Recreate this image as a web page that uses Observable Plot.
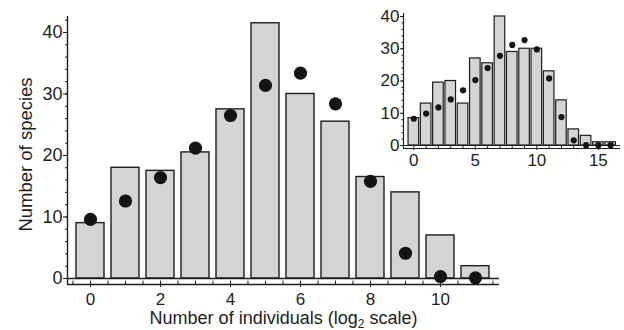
<!DOCTYPE html>
<html><head><meta charset="utf-8">
<script src="https://cdn.jsdelivr.net/npm/d3@7"></script>
<script src="https://cdn.jsdelivr.net/npm/@observablehq/plot@0.6"></script>
<style>
body{margin:0;background:#fff}
#wrap{position:relative;width:624px;height:330px}
#wrap svg{position:absolute;top:0}
</style>
</head><body><div id="wrap"></div>
<script>
// ---- data ----
const mainBins = [0,1,2,3,4,5,6,7,8,9,10,11];
const mainBars = [9,18,17.5,20.5,27.5,41.5,30,25.5,16.5,14,7,2];
const mainDots = [9.6,12.6,16.4,21.2,26.5,31.4,33.4,28.4,15.8,4.1,0.3,0.1];
const mainXTicks = [0,2,4,6,8,10];
const mainYTicks = [0,10,20,30,40];

const insetBins = [0,1,2,3,4,5,6,7,8,9,10,11,12,13,14,15,16];
const insetBars = [8.5,13,19.5,20,13,27,25.5,40,29,30,30,23,14,5,3,1,1];
const insetDots = [8.3,9.9,11.8,14.3,17.1,20.3,24.0,27.8,31.2,32.7,29.8,20.8,8.8,1.6,0.1,0.1,0.1];
const insetXTicks = [0,5,10,15];
const insetYTicks = [0,10,20,30,40];

const xTitle = "Number of individuals (log2 scale)";
const yTitle = "Number of species";

// ---- build ----
const font = "'Liberation Sans', Arial, Helvetica, sans-serif";
const barFill = "#d3d4d6", ink = "#1e1e1e";
const mainBarData = mainBins.map((k,i)=>({k, v: mainBars[i]}));
const mainDotData = mainBins.map((k,i)=>({k, v: mainDots[i]}));
const insetBarData = insetBins.map((k,i)=>({k, v: insetBars[i]}));
const insetDotData = insetBins.map((k,i)=>({k, v: insetDots[i]}));

const mxDom = [-0.657, 11.686], myDom = [-0.98, 42.6];
const mainMinorX = d3.range(-0.5, 11.6, 0.5);
const mainMinorY = d3.range(0, 42.1, 2);

const main = Plot.plot({
  width: 624, height: 330,
  marginLeft: 67, marginRight: 125, marginTop: 16, marginBottom: 46,
  style: {fontFamily: font, fontSize: "18px", background: "transparent", color: ink, overflow: "visible"},
  x: {type: "linear", domain: mxDom, label: null},
  y: {domain: myDom, label: null},
  marks: [
    Plot.rectY(mainBarData, {x1: d => d.k - 0.4, x2: d => d.k + 0.4, y1: 0, y2: "v", fill: barFill, stroke: ink, strokeWidth: 1.4}),
    Plot.ruleY([0], {stroke: ink, strokeWidth: 1.4}),
    Plot.ruleY([myDom[0]], {stroke: ink, strokeWidth: 1.4}),
    Plot.ruleX([mxDom[0]], {stroke: ink, strokeWidth: 1.4}),
    Plot.axisY(mainYTicks, {tickSize: 4, tickPadding: 1, label: null, fontSize: 18, stroke: ink}),
    Plot.axisY(mainMinorY, {tickSize: 2, text: null, label: null, stroke: ink}),
    Plot.axisX(mainXTicks, {tickSize: 3, tickPadding: 5, label: null, fontSize: 17, stroke: ink}),
    Plot.ruleX(mainMinorX, {y1: myDom[0], y2: myDom[0] + 0.55, stroke: ink}),
    Plot.dot(mainDotData, {x: "k", y: "v", r: 6.6, fill: "#141414"}),
    Plot.text([xTitle], {frameAnchor: "bottom", dy: 33.5, lineAnchor: "middle", textAnchor: "middle", fontSize: 18, fill: ink}),
    Plot.text([yTitle], {frameAnchor: "left", dx: -41, dy: 4, rotate: -90, textAnchor: "middle", lineAnchor: "middle", fontSize: 18.5, fill: ink})
  ]
});

const ixDom = [-0.84, 16.8], iyDom = [-0.93, 40.93];
const insetMinorX = d3.range(0, 16.1, 1);
const insetMinorY = d3.range(0, 40.1, 2);

const inset = Plot.plot({
  width: 244, height: 170,
  marginLeft: 23, marginRight: 4, marginTop: 13, marginBottom: 22,
  style: {fontFamily: font, fontSize: "17px", background: "transparent", color: ink, overflow: "visible"},
  x: {type: "linear", domain: ixDom, label: null},
  y: {domain: iyDom, label: null},
  marks: [
    Plot.rectY(insetBarData, {x1: d => d.k - 0.43, x2: d => d.k + 0.43, y1: 0, y2: "v", fill: barFill, stroke: ink, strokeWidth: 1.2}),
    Plot.ruleY([0], {stroke: ink, strokeWidth: 1.2}),
    Plot.ruleY([iyDom[0]], {stroke: ink, strokeWidth: 1.2}),
    Plot.ruleX([ixDom[0]], {stroke: ink, strokeWidth: 1.2}),
    Plot.axisY(insetYTicks, {tickSize: 3, tickPadding: 1, label: null, fontSize: 17, stroke: ink}),
    Plot.axisY(insetMinorY, {tickSize: 1.5, text: null, label: null, stroke: ink}),
    Plot.axisX(insetXTicks, {tickSize: 2, tickPadding: 3, label: null, fontSize: 17, stroke: ink}),
    Plot.ruleX(insetMinorX, {y1: iyDom[0], y2: iyDom[0] + 0.6, stroke: ink}),
    Plot.dot(insetDotData, {x: "k", y: "v", r: 3.1, fill: "#141414"})
  ]
});

const wrap = document.getElementById("wrap");
main.style.left = "0px";
inset.style.left = "380px";
wrap.appendChild(main);
wrap.appendChild(inset);

// subscript in x title
main.querySelectorAll("text").forEach(t => {
  if (t.textContent === xTitle) {
    const parts = xTitle.split("log2");
    t.textContent = "";
    const ns = "http://www.w3.org/2000/svg";
    const a = document.createElementNS(ns, "tspan"); a.textContent = parts[0] + "log";
    const b = document.createElementNS(ns, "tspan"); b.textContent = "2"; b.setAttribute("font-size", "12"); b.setAttribute("dy", "4");
    const c = document.createElementNS(ns, "tspan"); c.textContent = parts[1]; c.setAttribute("dy", "-4");
    t.append(a, b, c);
  }
});
</script>
</body></html>
